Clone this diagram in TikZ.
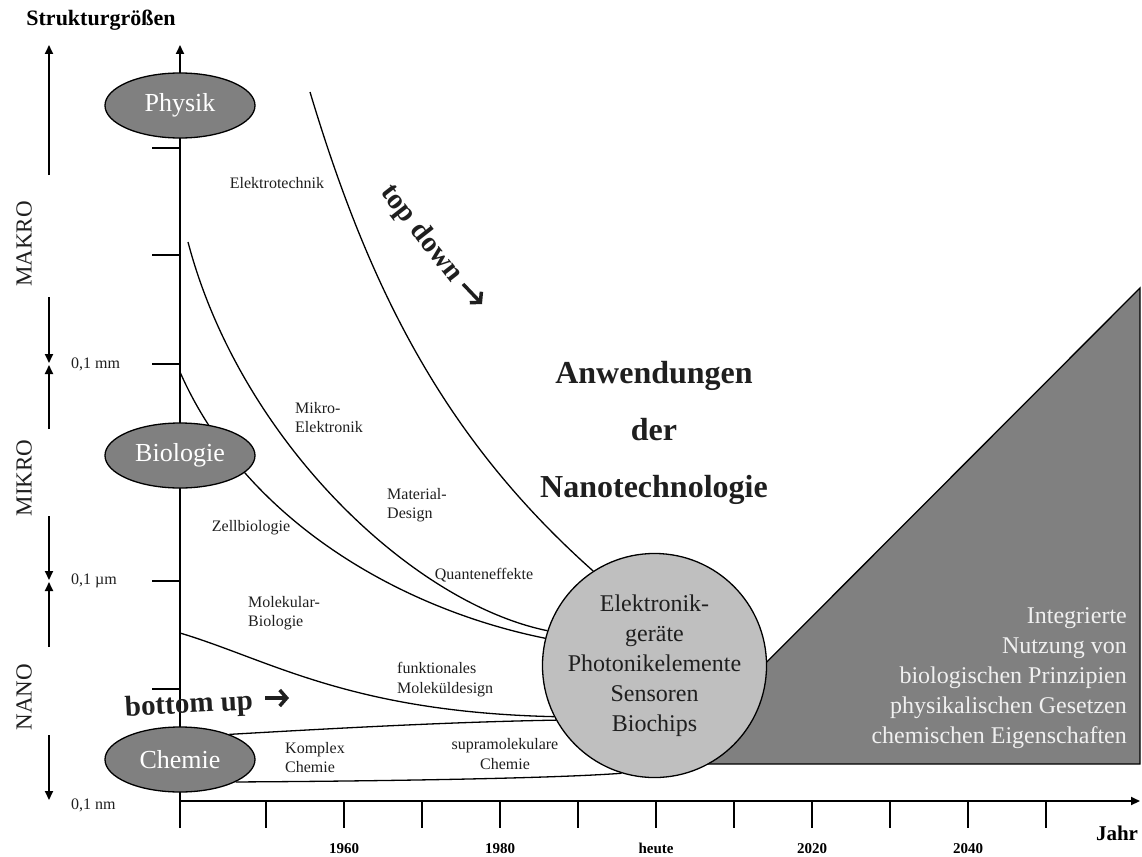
\documentclass[tikz,border=0pt]{standalone}
\usepackage{fontspec}
\setmainfont{Liberation Serif}
\usetikzlibrary{arrows.meta,shapes.geometric}
\pgfdeclarelayer{background}
\pgfsetlayers{background,main}
\definecolor{darkfill}{gray}{0.5}
\definecolor{lightfill}{gray}{0.75}
\definecolor{ink}{gray}{0.12}

\begin{document}
\begin{tikzpicture}[x=1pt,y=-1pt,
  axis/.style={line width=2pt},
  tipped/.style={-{Triangle[length=9pt,width=8pt]}},
  sidearrow/.style={line width=1.8pt,-{Triangle[length=9pt,width=8pt]}},
  curve/.style={line width=1.3pt},
  field/.style={ellipse, draw=black, line width=1.3pt, fill=darkfill,
    minimum width=150pt, minimum height=65pt, inner sep=0pt,
    text=white, font=\fontsize{26}{30}\selectfont},
  hub/.style={circle, draw=black, line width=1.3pt, fill=lightfill,
    minimum size=215pt, inner sep=0pt, align=center,
    text=ink, font=\fontsize{24}{30}\selectfont},
  lbl/.style={inner sep=0pt, text=ink, font=\fontsize{16}{19.5}\selectfont},
  scale label/.style={inner sep=0pt, anchor=west, text=ink, font=\fontsize{16}{19}\selectfont},
  sizeband/.style={inner sep=0pt, rotate=90, text=ink, font=\fontsize{23}{26}\selectfont},
  year/.style={inner sep=0pt, anchor=base, font=\bfseries\fontsize{15}{18}\selectfont},
  trend/.style={inner sep=0pt, text=ink, font=\bfseries\fontsize{29}{32}\selectfont},
  chevron/.style={line width=3.5pt, draw=ink, -{Straight Barb[length=7pt,width=16pt]}}
]
\useasboundingbox (0,0) rectangle (1142,856);

% --- discipline ellipses and application circle ---
\node[field] (phys) at (180,105.5) {Physik};
\node[field] (bio)  at (180,455.5) {Biologie};
\node[field] (chem) at (180,759.5) {Chemie};
\node[hub] (circ) at (654.5,665.5)
  {Elektronik-\\geräte\\Photonikelemente\\Sensoren\\Biochips};

\begin{pgfonlayer}{background}
  % future integration wedge
  \filldraw[fill=darkfill, draw=black, line width=1.3pt]
    (665,764) -- (1140,764) -- (1140,288) -- cycle;

  % axes
  \coordinate (o)  at (180,801);
  \coordinate (yb) at (180,828);
  \coordinate (yt) at (180,45);
  \coordinate (xe) at (1140,801);
  \draw[axis,tipped] (yb) -- (yt);
  \draw[axis,tipped] (o) -- (xe);
  \foreach \x in {266,344,...,1046}
    \draw[axis] (\x,801) -- (\x,828);
  \foreach \y in {148,255,364,581,689}
    \draw[axis] (152,\y) -- (180,\y);

  % size ranges on the left
  \draw[sidearrow] (49,175) -- (49,45);
  \draw[sidearrow] (49,297) -- (49,363);
  \draw[sidearrow] (49,429) -- (49,365);
  \draw[sidearrow] (49,516) -- (49,580);
  \draw[sidearrow] (49,647) -- (49,582);
  \draw[sidearrow] (49,735) -- (49,800);

  % development paths (top down)
  \coordinate (etStart) at (310,92);
  \coordinate (meStart) at (188,242);
  \coordinate (zbStart) at (180,372);
  \coordinate (mbStart) at (180,633);
  \draw[curve] (etStart) .. controls (370,292) and (446,440) .. (circ.123);
  \draw[curve] (meStart) .. controls (240,440) and (412,603) .. (circ.162);
  \draw[curve] (zbStart) .. controls (245,520) and (400,609) .. (circ.166);
  % development paths (bottom up)
  \draw[curve] (mbStart) .. controls (270,660) and (350,712) .. (circ.207);
  \draw[curve] (chem.27) .. controls (340,728) and (450,722) .. (circ.209);
  \draw[curve] (chem.-22) .. controls (400,781) and (560,778) .. (circ.253);
\end{pgfonlayer}

% --- axis titles and scale labels ---
\node[inner sep=0pt, font=\bfseries\fontsize{22}{26}\selectfont] (ytitle) at (101,20) {Strukturgrößen};
\node[inner sep=0pt, font=\bfseries\fontsize{21}{24}\selectfont] (xtitle) at (1117,833) {Jahr};
\node[year] (y1960) at (344,853) {1960};
\node[year] (y1980) at (500,853) {1980};
\node[year] (yheute) at (656,853) {heute};
\node[year] (y2020) at (812,853) {2020};
\node[year] (y2040) at (968,853) {2040};

\node[sizeband] (makro) at (24,244) {MAKRO};
\node[sizeband] (mikro) at (24,478) {MIKRO};
\node[sizeband] (nano)  at (24,697) {NANO};
\node[scale label] (mm) at (71,364) {0,1 mm};
\node[scale label] (um) at (71,581) {0,1 µm};
\node[scale label] (nm) at (71,805) {0,1 nm};

% --- path labels ---
\node[lbl] (l1) at (277,183) {Elektrotechnik};
\node[lbl, anchor=west, align=left] (l2) at (295,417.5) {Mikro-\\Elektronik};
\node[lbl, anchor=west, align=left] (l3) at (387,505) {Material-\\Design};
\node[lbl] (l4) at (251,528) {Zellbiologie};
\node[lbl] (l5) at (484,575) {Quanteneffekte};
\node[lbl, anchor=west, align=left] (l6) at (248,613) {Molekular-\\Biologie};
\node[lbl, anchor=west, align=left] (l7) at (397,679.5) {funktionales\\Moleküldesign};
\node[lbl, anchor=west, align=left] (l8) at (285,757.5) {Komplex\\Chemie};
\node[lbl, align=center] (l9) at (505,754) {supramolekulare\\Chemie};

% --- trends ---
\node[trend, rotate=-52] (td) at (421,234) {top down};
\coordinate (tdA) at (463,284);
\coordinate (tdB) at (482,304);
\draw[chevron] (tdA) -- (tdB);
\node[trend, rotate=3] (bu) at (189,706) {bottom up};
\coordinate (buA) at (265,698);
\coordinate (buB) at (289,698);
\draw[chevron] (buA) -- (buB);

% --- headline ---
\node[inner sep=0pt, align=center, text=ink, font=\bfseries\fontsize{32}{57}\selectfont]
  (head) at (654,433) {Anwendungen\\der\\Nanotechnologie};

% --- wedge text ---
\node[inner sep=0pt, anchor=east, align=right, text=white!94!black,
  font=\fontsize{24}{30}\selectfont] (wedge) at (1127,678)
  {Integrierte\\Nutzung von\\biologischen Prinzipien\\physikalischen Gesetzen\\chemischen Eigenschaften};
\end{tikzpicture}
\end{document}
